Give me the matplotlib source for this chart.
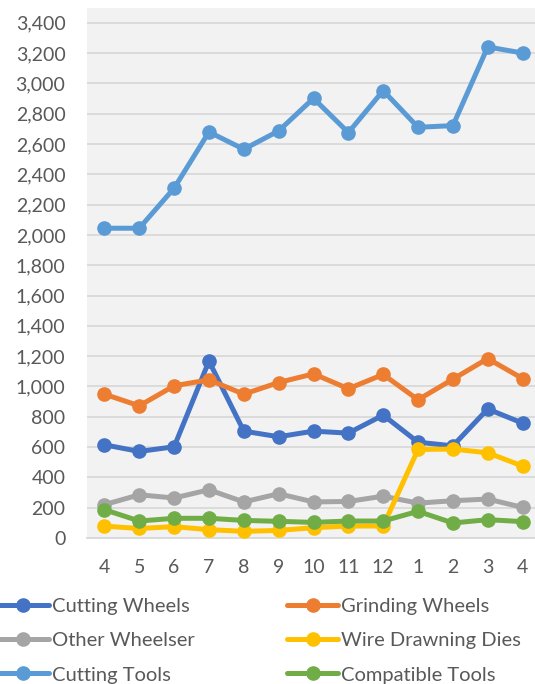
import matplotlib
matplotlib.use("Agg")
import matplotlib.pyplot as plt
from matplotlib.ticker import FuncFormatter, MultipleLocator

months = ["4", "5", "6", "7", "8", "9", "10", "11", "12", "1", "2", "3", "4"]

cutting_wheels = [615, 571, 602, 1167, 705, 668, 705, 692, 811, 632, 608, 851, 758]
grinding_wheels = [949, 872, 1004, 1044, 949, 1026, 1083, 985, 1079, 912, 1048, 1184, 1052]
other_wheelser = [220, 285, 264, 318, 238, 292, 238, 241, 276, 230, 246, 257, 202]
wire_drawning_dies = [78, 63, 75, 55, 44, 50, 68, 79, 79, 584, 587, 562, 475]
cutting_tools = [2044, 2044, 2308, 2679, 2565, 2686, 2901, 2675, 2952, 2710, 2721, 3240, 3200]
compatible_tools = [187, 112, 130, 130, 116, 110, 103, 112, 112, 176, 99, 121, 108]

series = [
    ("Cutting Wheels", cutting_wheels, "#4472C4"),
    ("Grinding Wheels", grinding_wheels, "#ED7D31"),
    ("Other Wheelser", other_wheelser, "#A5A5A5"),
    ("Wire Drawning Dies", wire_drawning_dies, "#FFC000"),
    ("Cutting Tools", cutting_tools, "#5B9BD5"),
    ("Compatible Tools", compatible_tools, "#70AD47"),
]

plt.rcParams["font.family"] = ["Lato", "DejaVu Sans"]

fig = plt.figure(figsize=(5.35, 6.84), dpi=100)
ax = fig.add_axes([87 / 535, 146 / 684, (540 - 87) / 535, (538 - 8) / 684])
ax.set_facecolor("#F2F2F2")

x = list(range(len(months)))
handles = []
for name, vals, color in series:
    h, = ax.plot(x, vals, color=color, lw=3.6, marker="o", markersize=9.5,
                 label=name, solid_capstyle="round", zorder=3)
    handles.append(h)

ax.set_xlim(-0.5, len(months) - 0.5)
ax.set_ylim(0, 3497)
ax.yaxis.set_major_locator(MultipleLocator(200))
ax.yaxis.set_major_formatter(FuncFormatter(lambda v, p: f"{int(v):,}"))
ax.set_xticks(x)
ax.set_xticklabels(months)
ax.grid(axis="y", color="#D9D9D9", lw=1.3, zorder=0)
ax.set_axisbelow(True)
for s in ["top", "right", "left"]:
    ax.spines[s].set_visible(False)
ax.spines["bottom"].set_color("#D9D9D9")
ax.spines["bottom"].set_linewidth(1.3)
ax.tick_params(axis="both", length=0, labelsize=14, labelcolor="#595959")
ax.tick_params(axis="y", pad=15.5)
ax.tick_params(axis="x", pad=15)

# row-wise legend order (matplotlib fills columns first)
order = [0, 2, 4, 1, 3, 5]
leg_handles = [handles[i] for i in order]
leg_labels = [series[i][0] for i in order]
fig.legend(leg_handles, leg_labels, loc="upper left",
           bbox_to_anchor=(-0.005, 1 - 598 / 684), ncol=2,
           frameon=False, fontsize=14.5, handlelength=2.55, handletextpad=0.15,
           columnspacing=4.6, labelspacing=0.85, borderpad=0, borderaxespad=0,
           labelcolor="#595959")

fig.savefig("out.png", dpi=100)
